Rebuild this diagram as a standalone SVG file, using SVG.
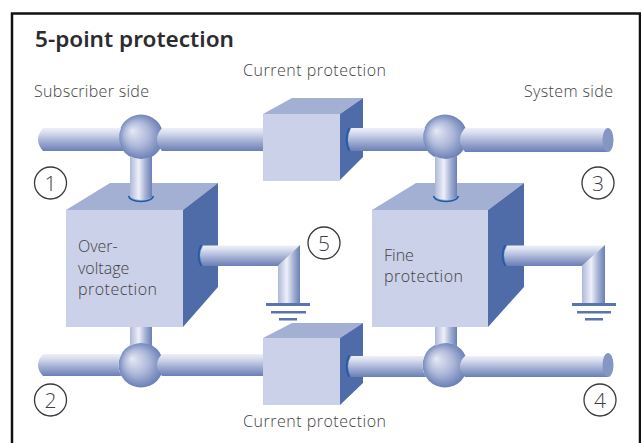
<svg xmlns="http://www.w3.org/2000/svg" width="641" height="443" viewBox="0 0 641 443">
<style>
text{font-family:"Open Sans","Noto Sans","Liberation Sans",sans-serif;font-weight:300;fill:#3f3f45;font-size:16px}
.title{font-family:"Noto Sans","Open Sans",sans-serif;font-weight:600;font-size:22px;fill:#2c2c30}
.front{fill:#cbd1e8}.top{fill:#a3b0d3}.side{fill:#4f6ca9}
.ph{fill:url(#pipeH)}.pv{fill:url(#pipeV)}
.ball{fill:url(#ball)}
.ring{fill:none;stroke:#1f5ca8;stroke-width:1.6}
.earth{fill:#5a74ae}
.num{fill:none;stroke:#3a3a3e;stroke-width:1.3}
.cap{fill:#8596c3}
.n{font-size:21px;text-anchor:middle}
</style>
<defs>
<linearGradient id="pipeH" x1="0" y1="0" x2="0" y2="1"><stop offset="0" stop-color="#eef0f9"/><stop offset=".22" stop-color="#d6dbed"/><stop offset=".6" stop-color="#a0acd2"/><stop offset="1" stop-color="#6a7fb6"/></linearGradient>
<linearGradient id="pipeV" x1="0" y1="0" x2="1" y2="0"><stop offset="0" stop-color="#aeb8d8"/><stop offset=".4" stop-color="#eef0f9"/><stop offset=".7" stop-color="#a5b1d4"/><stop offset="1" stop-color="#6a7fb6"/></linearGradient>
<radialGradient id="ball" cx=".5" cy=".5" r=".55" fx=".3" fy=".36"><stop offset="0" stop-color="#e6e9f5"/><stop offset=".5" stop-color="#aeb8d9"/><stop offset="1" stop-color="#5f76b0"/></radialGradient>
</defs>
<rect width="641" height="443" fill="#fff"/>
<path d="M12 443V13.500H640V443" fill="none" stroke="#111" stroke-width="2.500"/>
<text class="title" x="35" y="47" textLength="199" lengthAdjust="spacingAndGlyphs">5-point protection</text>
<text x="34" y="97" textLength="115">Subscriber side</text>
<text x="524" y="97" textLength="89">System side</text>
<g id="current-top"><path class="top" d="M263 114L292 98H363L340 114Z"/><path class="side" d="M340 114L363 98V157L340 180Z"/><rect class="front" x="263" y="114" width="77" height="67"/><text x="243" y="76" textLength="143">Current protection</text></g>
<g id="current-bottom"><path class="top" d="M263 338L292 323H363L340 338Z"/><path class="side" d="M340 338L363 323V383L340 405Z"/><rect class="front" x="263" y="338" width="77" height="67"/><text x="243" y="427" textLength="143">Current protection</text></g>
<g id="overvoltage"><path class="top" d="M66 210L110 183H218L183 210Z"/><path class="side" d="M183 210L218 183V287L183 327Z"/><rect class="front" x="66" y="210" width="117" height="117"/><text x="78" y="252">Over-</text><text x="78" y="274">voltage</text><text x="78" y="295" textLength="79">protection</text></g>
<g id="fine"><path class="top" d="M372 210L416 183H524L488 210Z"/><path class="side" d="M488 210L524 183V287L488 327Z"/><rect class="front" x="372" y="210" width="116" height="117"/><text x="384" y="261">Fine</text><text x="384" y="282" textLength="79">protection</text></g>
<g id="junction-1"><circle class="ball" cx="141" cy="137" r="22.500"/></g>
<g id="junction-2"><circle class="ball" cx="141" cy="365" r="22.500"/></g>
<g id="junction-3"><circle class="ball" cx="445" cy="137" r="22.500"/></g>
<g id="junction-4"><circle class="ball" cx="445" cy="365" r="22.500"/></g>
<g id="label-1"><circle class="num" cx="50.500" cy="183" r="16"/><text class="n" x="50.500" y="191">1</text></g>
<g id="label-2"><circle class="num" cx="50.500" cy="400" r="16"/><text class="n" x="50.500" y="408">2</text></g>
<g id="label-3"><circle class="num" cx="598" cy="183" r="16"/><text class="n" x="598" y="191">3</text></g>
<g id="label-4"><circle class="num" cx="600" cy="400" r="16"/><text class="n" x="600" y="408">4</text></g>
<g id="label-5"><circle class="num" cx="324" cy="243" r="16"/><text class="n" x="324" y="251">5</text></g>
<g id="connectors">
<path class="ph" d="M43 128H121A22.500 22.500 0 0 0 124 151H43Q33 139.500 43 128Z"/>
<path class="ph" d="M162 128H263V151H162Q152 139.500 162 128Z"/>
<path class="ring" d="M349 128Q344 139.500 349 151"/>
<path class="ph" d="M351 128H425A22.500 22.500 0 0 0 428 151H351Q345 139.500 351 128Z"/>
<path class="ph" d="M465 128H608V152H465Q455 139.500 465 128Z"/>
<ellipse class="cap" cx="608" cy="140" rx="5.500" ry="12"/>
<path class="pv" d="M130 156A22.500 22.500 0 0 0 152 156V197Q141 203 130 197Z"/>
<path class="ring" d="M128.500 196Q130 201 141 201.500Q152 201 153.500 196"/>
<path class="pv" d="M435 156A22.500 22.500 0 0 0 457 156V197Q446 203 435 197Z"/>
<path class="ring" d="M433.500 196Q435 201 446 201.500Q457 201 458.500 196"/>
<path class="ph" d="M43 354H121.500A22.500 22.500 0 0 0 121.500 376H43Q33 365 43 354Z"/>
<path class="ph" d="M162 354H263V376H162Q152 365 162 354Z"/>
<path class="ring" d="M349 355Q344 366 349 377"/>
<path class="ph" d="M351 356H424.500A22.500 22.500 0 0 0 426 377H351Q345 366 351 356Z"/>
<path class="ph" d="M465 356H608V377H465Q455 366 465 356Z"/>
<ellipse class="cap" cx="608" cy="365" rx="5.500" ry="12"/>
<path class="pv" d="M130 327H152V346A22.500 22.500 0 0 0 130 346Z"/>
<path class="pv" d="M435 327H457V346A22.500 22.500 0 0 0 435 346Z"/>
<path class="ring" d="M201 245Q196 255.500 201 266"/>
<path class="ph" d="M203 245.500H299.500L278 266H203Q197 255.500 203 245.500Z"/>
<path class="pv" d="M300 245V304H278V266Z"/>
<rect class="earth" x="266" y="303" width="44" height="3"/><rect class="earth" x="271" y="311" width="35" height="2.500"/><rect class="earth" x="279" y="318" width="18" height="2.500"/>
<path class="ring" d="M505 245Q500 255.500 505 266"/>
<path class="ph" d="M507 245.500H604.500L582 266H507Q501 255.500 507 245.500Z"/>
<path class="pv" d="M605 245V304H582V266Z"/>
<rect class="earth" x="572" y="303" width="44" height="3"/><rect class="earth" x="577" y="311" width="34" height="2.500"/><rect class="earth" x="585" y="318" width="18" height="2.500"/>
</g>
</svg>
